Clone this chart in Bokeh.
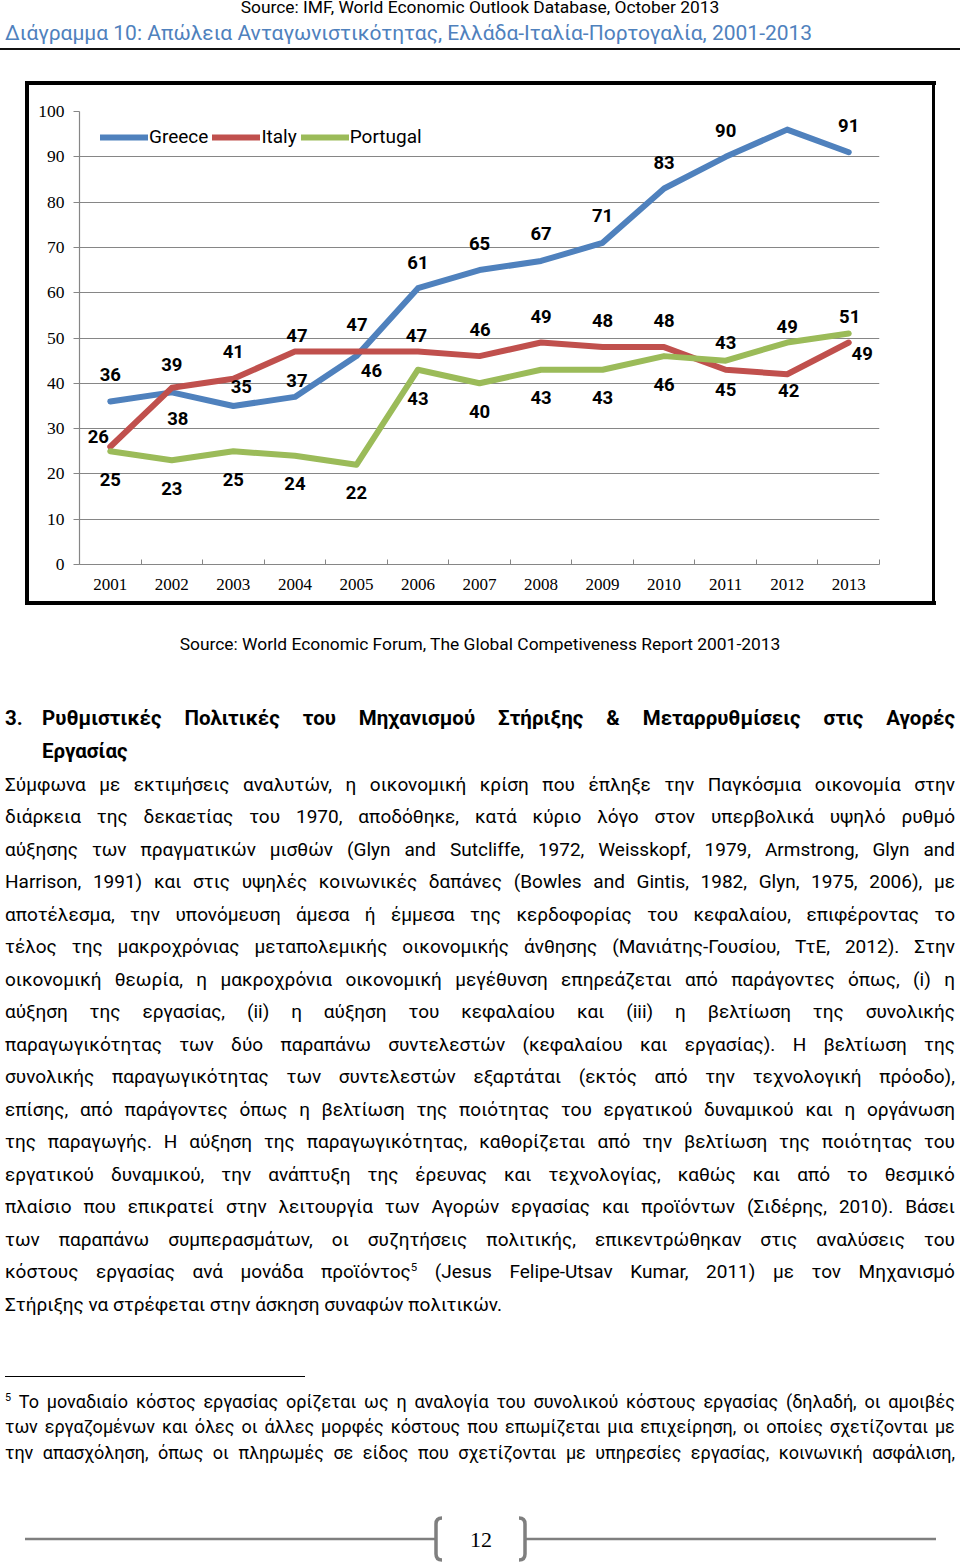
import html
from bokeh.plotting import figure
from bokeh.models import (Range1d, FixedTicker, Legend, LegendItem,
                          ColumnDataSource, Div)
from bokeh.layouts import column, row
from bokeh.core.properties import value
from bokeh.embed import file_html
from bokeh.resources import INLINE

# ---------------- data ----------------
years = [2001, 2002, 2003, 2004, 2005, 2006, 2007, 2008, 2009, 2010, 2011, 2012, 2013]
greece = [36, 38, 35, 37, 46, 61, 65, 67, 71, 83, 90, 96, 91]
italy = [26, 39, 41, 47, 47, 47, 46, 49, 48, 48, 43, 42, 49]
portugal = [25, 23, 25, 24, 22, 43, 40, 43, 43, 46, 45, 49, 51]
series_names = ["Greece", "Italy", "Portugal"]
y_ticks = [0, 10, 20, 30, 40, 50, 60, 70, 80, 90, 100]

# data-label offsets in screen pixels (positive dy = downwards)
greece_dx = [0, 6, 8, 2, 15, 0, 0, 0, 0, 0, 0, 0, 0]
greece_dy = [-27, 26, -19, -16.5, 14, -25.5, -27, -27, -27, -26.5, -26.5, -26.5, -26.5]
italy_dx = [-12, 0, 0, 2, 0.5, -1.5, 0.5, 0, 0, 0, 0, 1.5, 13.5]
italy_dy = [-10.5, -23, -27, -16, -27, -16, -27, -26.5, -27, -27, -27, 16, 11]
portugal_dx = [0, 0, 0, 0, 0, 0, 0, 0, 0, 0, 0, 0, 1]
portugal_dy = [28, 28, 28, 28, 28, 28.5, 28, 28, 28, 28, 28.5, -16.5, -16.5]

header_source = "Source: IMF, World Economic Outlook Database, October 2013"
chart_title = "Διάγραμμα 10: Απώλεια Ανταγωνιστικότητας, Ελλάδα-Ιταλία-Πορτογαλία, 2001-2013"
chart_source = "Source: World Economic Forum, The Global Competiveness Report 2001-2013"
heading_num = "3."
heading_line1 = "Ρυθμιστικές Πολιτικές του Μηχανισμού Στήριξης & Μεταρρυθμίσεις στις Αγορές"
heading_line2 = "Εργασίας"
body_lines = [
    "Σύμφωνα με εκτιμήσεις αναλυτών, η οικονομική κρίση που έπληξε την Παγκόσμια οικονομία στην",
    "διάρκεια της δεκαετίας του 1970, αποδόθηκε, κατά κύριο λόγο στον υπερβολικά υψηλό ρυθμό",
    "αύξησης των πραγματικών μισθών (Glyn and Sutcliffe, 1972, Weisskopf, 1979, Armstrong, Glyn and",
    "Harrison, 1991) και στις υψηλές κοινωνικές δαπάνες (Bowles and Gintis, 1982, Glyn, 1975, 2006), με",
    "αποτέλεσμα, την υπονόμευση άμεσα ή έμμεσα της κερδοφορίας του κεφαλαίου, επιφέροντας το",
    "τέλος της μακροχρόνιας μεταπολεμικής οικονομικής άνθησης (Μανιάτης-Γουσίου, ΤτΕ, 2012). Στην",
    "οικονομική θεωρία, η μακροχρόνια οικονομική μεγέθυνση επηρεάζεται από παράγοντες όπως, (i) η",
    "αύξηση της εργασίας, (ii) η αύξηση του κεφαλαίου και (iii) η βελτίωση της συνολικής",
    "παραγωγικότητας των δύο παραπάνω συντελεστών (κεφαλαίου και εργασίας). Η βελτίωση της",
    "συνολικής παραγωγικότητας των συντελεστών εξαρτάται (εκτός από την τεχνολογική πρόοδο),",
    "επίσης, από παράγοντες όπως η βελτίωση της ποιότητας του εργατικού δυναμικού και η οργάνωση",
    "της παραγωγής. Η αύξηση της παραγωγικότητας, καθορίζεται από την βελτίωση της ποιότητας του",
    "εργατικού δυναμικού, την ανάπτυξη της έρευνας και τεχνολογίας, καθώς και από το θεσμικό",
    "πλαίσιο που επικρατεί στην λειτουργία των Αγορών εργασίας και προϊόντων (Σιδέρης, 2010). Βάσει",
    "των παραπάνω συμπερασμάτων, οι συζητήσεις πολιτικής, επικεντρώθηκαν στις αναλύσεις του",
    "κόστους εργασίας ανά μονάδα προϊόντος^5 (Jesus Felipe-Utsav Kumar, 2011) με τον Μηχανισμό",
    "Στήριξης να στρέφεται στην άσκηση συναφών πολιτικών.",
]
footnote_lines = [
    "^5 Το μοναδιαίο κόστος εργασίας ορίζεται ως η αναλογία του συνολικού κόστους εργασίας (δηλαδή, οι αμοιβές",
    "των εργαζομένων και όλες οι άλλες μορφές κόστους που επωμίζεται μια επιχείρηση, οι οποίες σχετίζονται με",
    "την απασχόληση, όπως οι πληρωμές σε είδος που σχετίζονται με υπηρεσίες εργασίας, κοινωνική ασφάλιση,",
]
page_number = "12"

# ---------------- styles ----------------
SANS = "Roboto, 'Open Sans', sans-serif"
SERIF = "'Liberation Serif', serif"
C_GREECE = "#4F81BD"
C_ITALY = "#C0504D"
C_PORT = "#9BBB59"
GRID = "#868686"


def word_html(w):
    parts = w.split("^")
    out = [html.escape(parts[0])]
    for p_ in parts[1:]:
        out.append('<sup style="font-size:0.6em;line-height:0;vertical-align:super">'
                   + html.escape(p_) + '</sup>')
    return "".join(out)


def text_at(txt, left, baseline, fs, weight=400, color="#000", family=SANS, asc=0.842,
            width=None, align="left"):
    top = baseline - asc * fs
    st = (f"position:absolute;left:{left}px;top:{top:.1f}px;font-family:{family};"
          f"font-size:{fs}px;line-height:{fs}px;font-weight:{weight};color:{color};"
          f"white-space:nowrap;")
    if width is not None:
        st += f"width:{width}px;text-align:{align};"
    return f'<div style="{st}">{txt}</div>'


def just_line(line, left, width, baseline, fs, weight=400):
    top = baseline - 0.842 * fs
    spans = "".join(f"<span>{word_html(w)}</span>" for w in line.split())
    st = (f"position:absolute;left:{left}px;top:{top:.1f}px;width:{width}px;display:flex;"
          f"justify-content:space-between;align-items:baseline;font-family:{SANS};"
          f"font-size:{fs}px;line-height:{fs}px;font-weight:{weight};white-space:nowrap;color:#000;")
    return f'<div style="{st}">{spans}</div>'


def bar(left, top, width, height, color="#000"):
    return (f'<div style="position:absolute;left:{left}px;top:{top}px;width:{width}px;'
            f'height:{height}px;background:{color};"></div>')


def wrap(inner, w, h):
    return f'<div style="position:relative;width:{w}px;height:{h}px;">{inner}</div>'


# box of the chart (page coordinates): outer 25..935 x 81..605, thickness 3.5
BOX_T, BOX_B = 81, 605
ROW_T, ROW_B = 85, 601

# ---------------- header (page y 0..85) ----------------
hdr = []
hdr.append(text_at(html.escape(header_source), 0, 14, 17.4, width=960, align="center"))
hdr.append(text_at(html.escape(chart_title), 5, 41, 21, color=C_GREECE))
hdr.append(bar(0, 48, 960, 1.5, "#111"))
hdr.append(bar(25, BOX_T, 910.5, ROW_T - BOX_T))
header_div = Div(text=wrap("".join(hdr), 960, ROW_T), width=960, height=ROW_T, margin=0,
                 styles={"overflow": "visible"})

# ---------------- chart row (page y 85..601) ----------------
ROW_H = ROW_B - ROW_T
left_div = Div(text=wrap(bar(25, 0, 3.5, ROW_H), 29, ROW_H), width=29, height=ROW_H, margin=0)
right_div = Div(text=wrap(bar(0.5, 0, 3.5, ROW_H), 29, ROW_H), width=29, height=ROW_H, margin=0)

p = figure(width=902, height=ROW_H, x_range=Range1d(2000.5, 2013.5), y_range=Range1d(0, 100),
           output_backend="svg", toolbar_location=None, margin=0,
           min_border_left=50, min_border_right=52, min_border_top=26, min_border_bottom=37)
p.outline_line_color = None
p.background_fill_color = "white"
p.border_fill_color = "white"

boundaries = [y - 0.5 for y in years] + [years[-1] + 0.5]
p.xaxis.ticker = FixedTicker(ticks=years, minor_ticks=boundaries)
p.xaxis.major_tick_line_color = None
p.xaxis.minor_tick_in = 5
p.xaxis.minor_tick_out = 0
p.xaxis.minor_tick_line_color = GRID
p.xaxis.axis_line_color = GRID
p.xaxis.axis_line_width = 1.2
p.xaxis.major_label_text_font = "Liberation Serif"
p.xaxis.major_label_text_font_size = "17px"
p.xaxis.major_label_text_color = "#000"
p.xaxis.major_label_standoff = 8

p.yaxis.ticker = FixedTicker(ticks=y_ticks)
p.yaxis.major_tick_in = 0
p.yaxis.major_tick_out = 6
p.yaxis.major_tick_line_color = GRID
p.yaxis.minor_tick_line_color = None
p.yaxis.axis_line_color = GRID
p.yaxis.axis_line_width = 1.2
p.yaxis.major_label_text_font = "Liberation Serif"
p.yaxis.major_label_text_font_size = "17.5px"
p.yaxis.major_label_text_color = "#000"
p.yaxis.major_label_standoff = 9

p.xgrid.visible = False
p.ygrid.ticker = FixedTicker(ticks=y_ticks)
p.ygrid.grid_line_color = GRID
p.ygrid.grid_line_width = 1.2

renderers = []
for vals, col in ((greece, C_GREECE), (italy, C_ITALY), (portugal, C_PORT)):
    r = p.line(years, vals, line_color=col, line_width=6, line_cap="round", line_join="round")
    renderers.append(r)

for vals, dx, dy in ((greece, greece_dx, greece_dy), (italy, italy_dx, italy_dy),
                     (portugal, portugal_dx, portugal_dy)):
    src = ColumnDataSource(dict(x=years, y=vals, t=[str(v) for v in vals], dx=dx, dy=dy))
    p.text(x="x", y="y", text="t", x_offset="dx", y_offset="dy", source=src,
           text_font=value("Roboto"), text_font_size="18.5px", text_font_style="bold",
           text_align="center", text_baseline="middle", text_color="#000")

legend = Legend(items=[LegendItem(label=n, renderers=[r]) for n, r in zip(series_names, renderers)],
                orientation="horizontal", location=(21, 416),
                glyph_width=48, glyph_height=20, label_height=20, label_standoff=1,
                spacing=4, padding=0, margin=0,
                background_fill_alpha=0, border_line_color=None,
                label_text_font="Roboto", label_text_font_size="19px", label_text_color="#000")
p.add_layout(legend)

chart_row = row(left_div, p, right_div, spacing=0)

# ---------------- lower text (page y 601..1564) ----------------
OFF = ROW_B
LOW_H = 1564 - OFF
low = []
low.append(bar(25, 0, 910.5, BOX_B - ROW_B))
low.append(text_at(html.escape(chart_source), 0, 650.5 - OFF, 17.4, width=960, align="center"))
low.append(text_at(heading_num, 5, 725 - OFF, 20.5, weight=700))
low.append(just_line(heading_line1, 42, 913, 725 - OFF, 20.5, weight=700))
low.append(text_at(html.escape(heading_line2), 42, 758.5 - OFF, 20.5, weight=700))
for k, line in enumerate(body_lines):
    base = 790.5 + 32.5 * k - OFF
    if k < len(body_lines) - 1:
        low.append(just_line(line, 5, 950, base, 19))
    else:
        low.append(text_at(" ".join(word_html(w) for w in line.split()), 5, base, 19))
low.append(bar(5, 1376 - OFF, 300, 1))
for k, line in enumerate(footnote_lines):
    base = 1408 + 25.5 * k - OFF
    low.append(just_line(line, 5, 950, base, 18))

pn_y = 1539 - OFF
svg = (f'<svg style="position:absolute;left:0;top:0;overflow:visible" width="960" height="{LOW_H}">'
       f'<line x1="25" y1="{pn_y}" x2="435" y2="{pn_y}" stroke="#7f7f7f" stroke-width="2.5"/>'
       f'<line x1="525" y1="{pn_y}" x2="936" y2="{pn_y}" stroke="#7f7f7f" stroke-width="2.5"/>'
       f'<path d="M 442 {pn_y-21} Q 436 {pn_y-21} 436 {pn_y-15} L 436 {pn_y+15} Q 436 {pn_y+21} 442 {pn_y+21}" '
       f'fill="none" stroke="#7f7f7f" stroke-width="3.5"/>'
       f'<path d="M 519 {pn_y-21} Q 525 {pn_y-21} 525 {pn_y-15} L 525 {pn_y+15} Q 525 {pn_y+21} 519 {pn_y+21}" '
       f'fill="none" stroke="#7f7f7f" stroke-width="3.5"/>'
       f'</svg>')
low.append(svg)
low.append(text_at(page_number, 431, 1547 - OFF, 22, family=SERIF, asc=0.8375,
                   width=100, align="center"))
lower_div = Div(text=wrap("".join(low), 960, LOW_H), width=960, height=LOW_H, margin=0,
                styles={"overflow": "visible"})

layout = column(header_div, chart_row, lower_div, spacing=0)
open("out.html", "w").write(file_html(layout, INLINE))
